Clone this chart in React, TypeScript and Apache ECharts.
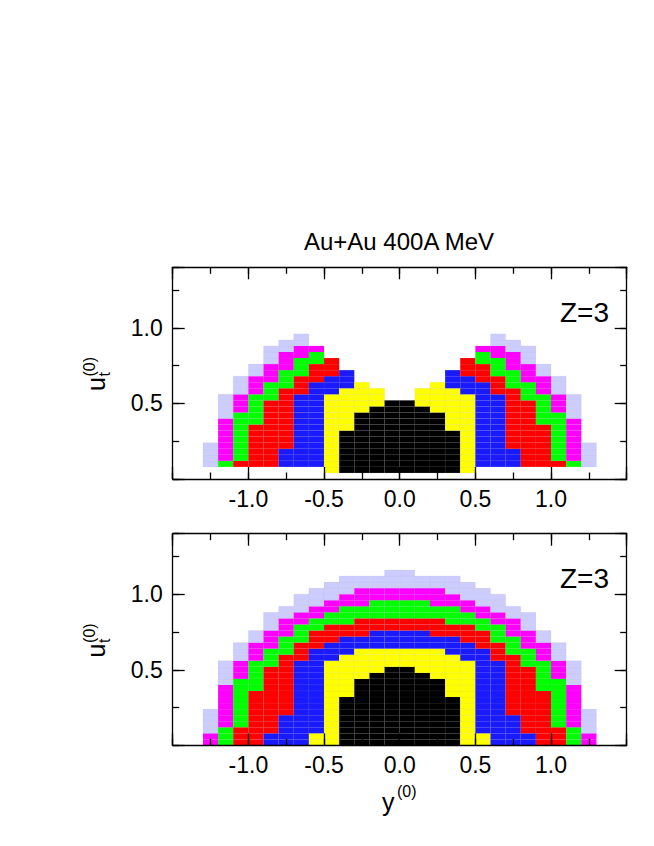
import React, { useEffect, useRef } from "react";
import * as echarts from "echarts";

// ---- data ----
const xBinEdges = [
  -1.3, -1.2, -1.1, -1.0, -0.9, -0.8, -0.7, -0.6, -0.5, -0.4, -0.3, -0.2, -0.1,
  0.0, 0.1, 0.2, 0.3, 0.4, 0.5, 0.6, 0.7, 0.8, 0.9, 1.0, 1.1, 1.2, 1.3,
];
const yBinEdges = [
  0, 0.04, 0.08, 0.12, 0.16, 0.2, 0.24, 0.28, 0.32, 0.36, 0.4, 0.44, 0.48, 0.52,
  0.56, 0.6, 0.64, 0.68, 0.72, 0.76, 0.8, 0.84, 0.88, 0.92, 0.96, 1.0, 1.04,
  1.08, 1.12, 1.16,
];
// contour level -> colour (0 = empty)
const levelColors = [
  "none", "#ccccff", "#ff00ff", "#00ff00", "#ff0000", "#1a1aff", "#ffff00", "#000000",
];
// per column (x bins left to right), runs "level:rows" from bottom upward
const upperRuns = [
  "0:2 1:4",
  "0:2 3:1 2:7 1:4",
  "0:2 4:1 3:8 2:3 1:3",
  "0:2 4:7 3:5 2:3 1:2",
  "0:2 4:11 3:3 2:3 1:3",
  "0:2 5:3 4:10 3:3 2:3 1:2",
  "0:2 5:12 4:3 3:3 2:2 1:2",
  "0:2 5:14 4:3 3:2 2:1",
  "0:1 6:13 5:3 4:3",
  "0:1 7:7 6:7 5:3",
  "0:1 7:10 6:5",
  "0:1 7:11 6:3",
  "0:1 7:12",
  "0:1 7:12",
  "0:1 7:11 6:3",
  "0:1 7:10 6:5",
  "0:1 7:7 6:7 5:3",
  "0:1 6:13 5:3 4:3",
  "0:2 5:14 4:3 3:2 2:1",
  "0:2 5:12 4:3 3:3 2:2 1:2",
  "0:2 5:3 4:10 3:3 2:3 1:2",
  "0:2 4:11 3:3 2:3 1:3",
  "0:2 4:7 3:5 2:3 1:2",
  "0:2 4:1 3:8 2:3 1:3",
  "0:2 3:1 2:7 1:4",
  "0:2 1:4",
];
const lowerRuns = [
  "2:2 1:4",
  "3:3 2:7 1:4",
  "4:3 3:8 2:3 1:3",
  "4:9 3:5 2:3 1:2",
  "5:2 4:11 3:3 2:3 1:3",
  "5:5 4:10 3:3 2:3 1:2",
  "5:14 4:3 3:3 2:2 1:3",
  "6:2 5:14 4:3 3:2 2:2 1:3",
  "6:14 5:3 4:3 3:2 2:2 1:3",
  "7:8 6:7 5:3 4:2 3:3 2:2 1:3",
  "7:11 6:5 5:2 4:3 3:2 2:3 1:2",
  "7:12 6:4 5:3 4:2 3:3 2:2 1:2",
  "7:13 6:3 5:3 4:2 3:3 2:2 1:3",
  "7:13 6:3 5:3 4:2 3:3 2:2 1:3",
  "7:12 6:4 5:3 4:2 3:3 2:2 1:2",
  "7:11 6:5 5:2 4:3 3:2 2:3 1:2",
  "7:8 6:7 5:3 4:2 3:3 2:2 1:3",
  "6:14 5:3 4:3 3:2 2:2 1:3",
  "6:2 5:14 4:3 3:2 2:2 1:3",
  "5:14 4:3 3:3 2:2 1:3",
  "5:5 4:10 3:3 2:3 1:2",
  "5:2 4:11 3:3 2:3 1:3",
  "4:9 3:5 2:3 1:2",
  "4:3 3:8 2:3 1:3",
  "3:3 2:7 1:4",
  "2:2 1:4",
];
const xTickLabels = ["-1.0", "-0.5", "0.0", "0.5", "1.0"];
const yTickLabels = ["0.5", "1.0"];
const titleText = "Au+Au 400A MeV";
const panelTag = "Z=3";

// ---- helpers ----
function buildCells(runs: string[]) {
  const out: number[][] = [];
  runs.forEach((col, ci) => {
    let row = 0;
    col.split(" ").forEach((tok) => {
      const [lvl, n] = tok.split(":").map(Number);
      for (let k = 0; k < n; k++) {
        if (lvl > 0) {
          out.push([xBinEdges[ci], xBinEdges[ci + 1], yBinEdges[row], yBinEdges[row + 1], lvl]);
        }
        row++;
      }
    });
  });
  return out;
}

const FONT = "'Liberation Sans', Arial, Helvetica, sans-serif";
const GRIDS = [
  { left: 172.7, top: 267.3, width: 454, height: 211.7 },
  { left: 172.7, top: 533.7, width: 454, height: 211.7 },
];

const lineStyle = { color: "#000", width: 1.3 };
const TICK_FONT = 23;

function xAxes(g: number) {
  const base = {
    gridIndex: g,
    type: "value",
    min: -1.5,
    max: 1.5,
    splitLine: { show: false },
    z: 10,
  };
  const fmt = (v: number) => {
    const s = v.toFixed(1);
    return xTickLabels.includes(s) ? s : "";
  };
  return [
    {
      ...base,
      position: "bottom",
      interval: 0.5,
      axisLine: { show: true, onZero: false, lineStyle },
      axisTick: { show: true, inside: true, length: 12, lineStyle },
      axisLabel: { show: true, formatter: fmt, fontSize: TICK_FONT, fontFamily: FONT, color: "#000", margin: 8 },
    },
    {
      ...base,
      position: "bottom",
      interval: 0.25,
      axisLine: { show: false, onZero: false },
      axisTick: { show: true, inside: true, length: 6.5, lineStyle },
      axisLabel: { show: false },
    },
    {
      ...base,
      position: "top",
      interval: 0.5,
      axisLine: { show: true, onZero: false, lineStyle },
      axisTick: { show: true, inside: true, length: 12, lineStyle },
      axisLabel: { show: false },
    },
    {
      ...base,
      position: "top",
      interval: 0.25,
      axisLine: { show: false, onZero: false },
      axisTick: { show: true, inside: true, length: 6.5, lineStyle },
      axisLabel: { show: false },
    },
  ];
}

function yAxes(g: number) {
  const base = {
    gridIndex: g,
    type: "value",
    min: 0,
    max: 1.4,
    splitLine: { show: false },
    z: 10,
  };
  const fmt = (v: number) => {
    const s = v.toFixed(1);
    return yTickLabels.includes(s) ? s : "";
  };
  return [
    {
      ...base,
      position: "left",
      interval: 0.5,
      axisLine: { show: true, onZero: false, lineStyle },
      axisTick: { show: true, inside: true, length: 12, lineStyle },
      axisLabel: { show: true, formatter: fmt, fontSize: TICK_FONT, fontFamily: FONT, color: "#000", margin: 10 },
    },
    {
      ...base,
      position: "left",
      interval: 0.25,
      axisLine: { show: false, onZero: false },
      axisTick: { show: true, inside: true, length: 6.5, lineStyle },
      axisLabel: { show: false },
    },
    {
      ...base,
      position: "right",
      interval: 0.5,
      axisLine: { show: true, onZero: false, lineStyle },
      axisTick: { show: true, inside: true, length: 12, lineStyle },
      axisLabel: { show: false },
    },
    {
      ...base,
      position: "right",
      interval: 0.25,
      axisLine: { show: false, onZero: false },
      axisTick: { show: true, inside: true, length: 6.5, lineStyle },
      axisLabel: { show: false },
    },
  ];
}

function cellSeries(g: number, runs: string[]) {
  return {
    type: "custom",
    coordinateSystem: "cartesian2d",
    xAxisIndex: g * 4,
    yAxisIndex: g * 4,
    silent: true,
    z: 2,
    encode: { x: [0, 1], y: [2, 3] },
    data: buildCells(runs),
    renderItem: (_params: any, api: any) => {
      const a = api.coord([api.value(0), api.value(2)]);
      const b = api.coord([api.value(1), api.value(3)]);
      return {
        type: "rect",
        shape: { x: a[0], y: b[1], width: b[0] - a[0], height: a[1] - b[1] },
        style: {
          fill: levelColors[api.value(4)],
          stroke: "rgba(120,120,120,0.16)",
          lineWidth: 0.4,
        },
      };
    },
  };
}

function txt(text: string, x: number, y: number, size: number, align = "left") {
  return {
    type: "text",
    x,
    y,
    silent: true,
    style: {
      text,
      fill: "#000",
      fontSize: size,
      fontFamily: FONT,
      font: `${size}px ${FONT}`,
      align,
      textAlign: align,
      verticalAlign: "middle",
      textVerticalAlign: "middle",
    },
  };
}

function yLabel(gx: number, gy: number) {
  return {
    type: "group",
    x: gx,
    y: gy,
    rotation: Math.PI / 2,
    children: [
      txt("u", 0, 0, 25),
      txt("t", 14.5, 8, 16),
      txt("(0)", 14.5, -7, 16),
    ],
  };
}

export default function App() {
  const ref = useRef<HTMLDivElement>(null);
  useEffect(() => {
    if (!ref.current) return;
    const chart = echarts.init(ref.current, null, { renderer: "svg" });
    const option: any = {
      animation: false,
      backgroundColor: "#fff",
      grid: GRIDS.map((g) => ({ ...g, containLabel: false })),
      xAxis: [...xAxes(0), ...xAxes(1)],
      yAxis: [...yAxes(0), ...yAxes(1)],
      series: [cellSeries(0, upperRuns), cellSeries(1, lowerRuns)],
      graphic: [
        txt(titleText, 399, 241, 24, "center"),
        txt(panelTag, 609, GRIDS[0].top + 45, 28, "right"),
        txt(panelTag, 609, GRIDS[1].top + 45, 28, "right"),
        yLabel(96, 391),
        yLabel(96, 391 + (GRIDS[1].top - GRIDS[0].top)),
        txt("y", 382, 802, 25),
        txt("(0)", 397, 791, 16),
      ],
    };
    chart.setOption(option);
    return () => chart.dispose();
  }, []);
  return (
    <div
      ref={ref}
      style={{ position: "absolute", left: 0, top: 0, width: 654, height: 846 }}
    />
  );
}
